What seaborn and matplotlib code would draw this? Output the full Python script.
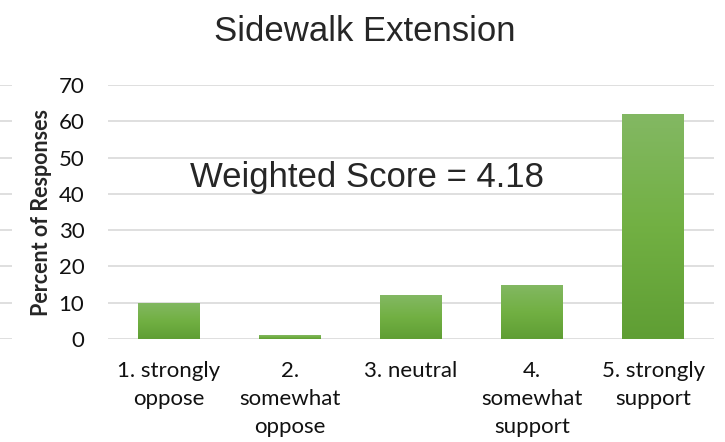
"""Sidewalk Extension survey responses - bar chart recreation."""

import numpy as np
import pandas as pd
import matplotlib
matplotlib.use("Agg")
import matplotlib.pyplot as plt
import seaborn as sns

# Data
categories = ["1. strongly\noppose", "2.\nsomewhat\noppose", "3. neutral",
              "4.\nsomewhat\nsupport", "5. strongly\nsupport"]
percents = [10, 1, 12, 15, 62]
y_ticks = [0, 10, 20, 30, 40, 50, 60, 70]
title = "Sidewalk Extension"
score_text = "Weighted Score = 4.18"
y_label = "Percent of Responses"

sns.set_theme(style="white")
body_font = ["Lato", "DejaVu Sans"]
head_font = ["Liberation Sans", "DejaVu Sans"]
plt.rcParams['font.family'] = body_font

df = pd.DataFrame({"category": categories, "percent": percents})

fig = plt.figure(figsize=(7.25, 4.42), dpi=100)
ax = fig.add_axes([108 / 725, 1 - 339 / 442, 606 / 725, 254 / 442])

sns.barplot(data=df, x="category", y="percent", color="#70ad47",
            width=0.51, ax=ax, zorder=3)

# Gradient fill on each bar (light at top, darker at bottom)
grad = np.linspace(0, 1, 256).reshape(-1, 1)
cmap = matplotlib.colors.LinearSegmentedColormap.from_list(
    "g", ["#5f9e34", "#72b043", "#83b863"])
for p in ax.patches:
    x0, w, h = p.get_x(), p.get_width(), p.get_height()
    im = ax.imshow(grad, cmap=cmap, aspect="auto", origin="lower",
                   extent=[x0, x0 + w, 0, h], zorder=4)
    im.set_clip_path(p)
    p.set_edgecolor("none")

ax.set_xlim(-0.5, len(categories) - 0.5)
ax.set_ylim(0, 70)
ax.set_yticks(y_ticks)
ax.yaxis.grid(True, color="#d9d9d9", linewidth=1.2, zorder=0)
ax.set_axisbelow(True)
for s in ax.spines.values():
    s.set_visible(False)
ax.tick_params(axis="both", length=0, labelsize=16, colors="#111111")
ax.tick_params(axis="x", pad=16)
ax.tick_params(axis="y", pad=17)
for lbl in ax.get_xticklabels():
    lbl.set_linespacing(1.5)
ax.set_xlabel("")
ax.set_ylabel(y_label, fontsize=15.5, fontweight="bold", labelpad=5)

fig.text(0.503, 0.928, title, ha="center", va="center",
         fontsize=25, family=head_font)
ax.text(0.427, 0.634, score_text, transform=ax.transAxes, ha="center",
        va="center", fontsize=25, family=head_font)

# Fragment of the neighbouring chart cropped at the left edge
ax_left = fig.add_axes([-0.2, 1 - 339 / 442, 0.2 + 12 / 725, 254 / 442])
ax_left.set_ylim(0, 70)
ax_left.set_yticks(y_ticks)
ax_left.yaxis.grid(True, color="#d9d9d9", linewidth=1.2)
ax_left.set_xticks([])
ax_left.set_yticklabels([])
ax_left.tick_params(length=0)
for s in ax_left.spines.values():
    s.set_visible(False)
ax_left.patch.set_alpha(0)

fig.savefig("out.png", dpi=100)
